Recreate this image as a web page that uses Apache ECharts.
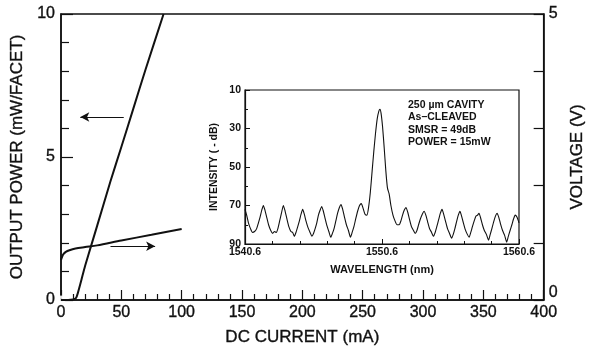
<!DOCTYPE html>
<html>
<head>
<meta charset="utf-8">
<script src="https://cdn.jsdelivr.net/npm/echarts@6/dist/echarts.min.js"></script>
<style>
  html, body { margin: 0; padding: 0; background: #fff; }
  #chart { width: 594px; height: 353px; }
</style>
</head>
<body>
<div id="chart"></div>
<script>
// L-I curve (mA, mW/facet)
const powerI = [0, 5, 8, 10, 12, 13, 14, 15, 17, 20, 25, 30, 41, 50, 60, 70, 85];
const powerL = [0, 0, 0.01, 0.02, 0.05, 0.12, 0.25, 0.4, 0.72, 1.2, 1.9, 2.6, 4.15, 5.35, 6.7, 8.05, 10];
// V-I curve (mA, V)
const voltI = [0, 1, 2, 4, 7, 12, 20, 30, 50, 75, 100];
const voltV = [0.70, 0.76, 0.80, 0.84, 0.87, 0.90, 0.925, 0.955, 1.04, 1.14, 1.24];
// inset spectrum: wavelength (nm) and intensity (-dB)
const specW = [
  1540.6, 1540.72, 1540.85, 1541.0, 1541.15, 1541.3, 1541.45, 1541.58, 1541.7, 1541.82,
  1541.94, 1542.06, 1542.18, 1542.32, 1542.48, 1542.62, 1542.75, 1542.88, 1543.0, 1543.13,
  1543.26, 1543.4, 1543.53, 1543.66, 1543.8, 1543.95, 1544.08, 1544.2, 1544.32, 1544.45,
  1544.57, 1544.69, 1544.81, 1544.93, 1545.05, 1545.2, 1545.35, 1545.48, 1545.6, 1545.72,
  1545.84, 1545.96, 1546.08, 1546.2, 1546.32, 1546.44, 1546.58, 1546.72, 1546.86, 1546.98,
  1547.1, 1547.23, 1547.36, 1547.49, 1547.61, 1547.73, 1547.86, 1548.0, 1548.15, 1548.3,
  1548.42, 1548.55, 1548.68, 1548.82, 1548.96, 1549.09, 1549.22, 1549.36, 1549.5, 1549.62,
  1549.75, 1549.88, 1550.0, 1550.12, 1550.25, 1550.37, 1550.45, 1550.53, 1550.64, 1550.76,
  1550.88, 1551.0, 1551.12, 1551.25, 1551.4, 1551.55, 1551.7, 1551.85, 1551.98, 1552.1,
  1552.22, 1552.35, 1552.48, 1552.6, 1552.75, 1552.9, 1553.02, 1553.15, 1553.27, 1553.4,
  1553.54, 1553.67, 1553.8, 1553.93, 1554.07, 1554.22, 1554.35, 1554.48, 1554.6, 1554.73,
  1554.86, 1554.98, 1555.1, 1555.23, 1555.38, 1555.53, 1555.68, 1555.8, 1555.92, 1556.04,
  1556.17, 1556.29, 1556.41, 1556.54, 1556.68, 1556.83, 1556.96, 1557.08, 1557.2, 1557.33,
  1557.46, 1557.58, 1557.68, 1557.8, 1557.93, 1558.07, 1558.22, 1558.38, 1558.5, 1558.62,
  1558.75, 1558.88, 1559.0, 1559.12, 1559.25, 1559.4, 1559.55, 1559.7, 1559.82, 1559.95,
  1560.08, 1560.2, 1560.32, 1560.45, 1560.6
];
const specI = [
  72, 75, 79, 82, 84, 83.5, 82, 79, 76, 72.5,
  70, 72.5, 76, 80, 83, 84.5, 83.5, 84, 82, 78,
  74, 70, 73, 77, 81, 83.5, 84, 86, 84, 81,
  78, 74.5, 72, 74.5, 78, 81.5, 84, 86, 84.5, 82,
  79, 75, 72.5, 70.5, 73, 76.5, 80.5, 83.5, 86.5, 84.5,
  82, 78, 74, 71, 69.5, 72, 76, 80, 83, 86.5,
  84, 81, 77, 73, 70, 69, 71.5, 74.5, 75, 71,
  63, 52, 42, 33, 25, 21, 20, 22, 29, 40,
  52, 61, 64, 70, 75, 78, 80, 80, 78, 75,
  72.5, 71, 73.5, 77, 81, 83, 84.5, 83, 80, 77,
  74.5, 73, 75, 78.5, 82, 84, 86, 84, 81, 77.5,
  74, 72, 74.5, 78, 82, 84.5, 87, 85, 82, 78.5,
  75, 73, 75.5, 79, 82.5, 85, 86.5, 84, 81, 78,
  75.5, 75, 74, 76.5, 80, 83, 85, 88, 85, 82,
  78.5, 75.5, 74, 76, 79.5, 83, 85.5, 89, 86, 83,
  80, 77, 75, 76, 79
];
const notes = ['250 \u00b5m CAVITY', 'As\u2013CLEAVED', 'SMSR = 49dB', 'POWER = 15mW'];

const zip = (a, b) => a.map((v, i) => [v, b[i]]);
const ink = '#111';
const font = 'Liberation Sans, Arial, sans-serif';
// printed labels look a little heavier than regular type
const heavy = { color: ink, textBorderColor: ink, textBorderWidth: 0.35 };

const chart = echarts.init(document.getElementById('chart'));
chart.setOption({
  animation: false,
  backgroundColor: '#fff',
  textStyle: { fontFamily: font, color: ink },
  grid: [
    { left: 61, right: 39, top: 14, bottom: 53, show: true, borderColor: ink, borderWidth: 1.5 },
    { left: 245, right: 75, top: 90, bottom: 109, show: true, borderColor: ink, borderWidth: 1.2, backgroundColor: '#fff' }
  ],
  xAxis: [
    {
      type: 'value', gridIndex: 0, min: 0, max: 400, interval: 50,
      name: 'DC CURRENT (mA)', nameLocation: 'middle', nameGap: 29,
      nameTextStyle: Object.assign({ fontSize: 17 }, heavy),
      axisLine: { lineStyle: { color: ink, width: 1.5 } },
      axisTick: { inside: true, length: 10, lineStyle: { color: ink, width: 1.2 } },
      minorTick: { show: true, splitNumber: 5, length: 6, lineStyle: { color: ink, width: 1.2 } },
      axisLabel: Object.assign({ fontSize: 16, margin: 5 }, heavy),
      splitLine: { show: false }
    },
    {
      type: 'value', gridIndex: 1, min: 1540.6, max: 1560.6, interval: 10,
      name: 'WAVELENGTH (nm)', nameLocation: 'middle', nameGap: 20,
      nameTextStyle: { fontSize: 11, fontWeight: 'bold', color: ink },
      axisLine: { lineStyle: { color: ink, width: 1.2 } },
      axisTick: { inside: true, length: 5, lineStyle: { color: ink } },
      minorTick: { show: true, splitNumber: 5, length: 3, lineStyle: { color: ink } },
      axisLabel: { fontSize: 10.5, fontWeight: 'bold', color: ink, margin: 3, formatter: v => v.toFixed(1) },
      splitLine: { show: false }
    }
  ],
  yAxis: [
    {
      type: 'value', gridIndex: 0, min: 0, max: 10, interval: 5, position: 'left',
      name: 'OUTPUT POWER (mW/FACET)', nameLocation: 'middle', nameGap: 34, nameRotate: 90,
      nameTextStyle: Object.assign({ fontSize: 17 }, heavy),
      axisLine: { show: true, lineStyle: { color: ink, width: 1.5 } },
      axisTick: { inside: true, length: 12, lineStyle: { color: ink, width: 1.2 } },
      minorTick: { show: true, splitNumber: 5, length: 8, lineStyle: { color: ink, width: 1.2 } },
      axisLabel: Object.assign({ fontSize: 16, margin: 6 }, heavy),
      splitLine: { show: false }
    },
    {
      type: 'value', gridIndex: 0, min: 0, max: 5, interval: 5, position: 'right',
      name: 'VOLTAGE (V)', nameLocation: 'middle', nameGap: 23, nameRotate: 90,
      nameTextStyle: Object.assign({ fontSize: 17 }, heavy),
      axisLine: { show: true, lineStyle: { color: ink, width: 1.5 } },
      axisTick: { inside: true, length: 10, lineStyle: { color: ink, width: 1.2 } },
      minorTick: { show: true, splitNumber: 5, length: 10, lineStyle: { color: ink, width: 1.2 } },
      axisLabel: Object.assign({
        fontSize: 16, margin: 5,
        formatter: v => v === 0 ? '{lo|0}' : String(v),
        rich: { lo: Object.assign({ fontSize: 16, padding: [0, 0, 15, 0] }, heavy) }
      }, heavy),
      splitLine: { show: false }
    },
    {
      type: 'value', gridIndex: 1, min: 10, max: 90, interval: 20, inverse: true,
      name: 'INTENSITY ( - dB)', nameLocation: 'middle', nameGap: 25, nameRotate: 90,
      nameTextStyle: { fontSize: 10.5, fontWeight: 'bold', color: ink },
      axisLine: { show: true, lineStyle: { color: ink, width: 1.2 } },
      axisTick: { inside: true, length: 5, lineStyle: { color: ink } },
      minorTick: { show: true, splitNumber: 2, length: 3, lineStyle: { color: ink } },
      axisLabel: { fontSize: 10.5, fontWeight: 'bold', color: ink, margin: 4 },
      splitLine: { show: false }
    }
  ],
  graphic: [
    {
      type: 'text', left: 408, top: 99, silent: true,
      style: { text: notes.join('\n'), font: 'bold 10.5px ' + font, lineHeight: 12.4, fill: ink }
    }
  ],
  series: [
    {
      type: 'line', xAxisIndex: 0, yAxisIndex: 0, data: zip(powerI, powerL),
      showSymbol: false, smooth: 0.2, lineStyle: { color: ink, width: 2 }, silent: true,
      markLine: {
        silent: true, symbol: ['none', 'arrow'], symbolSize: [7, 9],
        label: { show: false }, lineStyle: { color: ink, width: 1.2, type: 'solid' },
        data: [[{ coord: [52, 6.4] }, { coord: [16, 6.4] }]]
      }
    },
    {
      type: 'scatter', xAxisIndex: 0, yAxisIndex: 0, data: [[0, 0]],
      symbol: 'emptyCircle', symbolSize: 7, itemStyle: { color: '#fff', borderColor: ink, borderWidth: 1.2 }, silent: true
    },
    {
      type: 'line', xAxisIndex: 0, yAxisIndex: 1, data: zip(voltI, voltV),
      showSymbol: false, smooth: 0.3, lineStyle: { color: ink, width: 2 }, silent: true,
      markLine: {
        silent: true, symbol: ['none', 'arrow'], symbolSize: [7, 9],
        label: { show: false }, lineStyle: { color: ink, width: 1.2, type: 'solid' },
        data: [[{ coord: [41, 0.94] }, { coord: [78, 0.94] }]]
      }
    },
    {
      type: 'line', xAxisIndex: 1, yAxisIndex: 2, data: zip(specW, specI),
      showSymbol: false, smooth: 0.2, lineStyle: { color: ink, width: 1.1 }, silent: true
    }
  ]
});
</script>
</body>
</html>
